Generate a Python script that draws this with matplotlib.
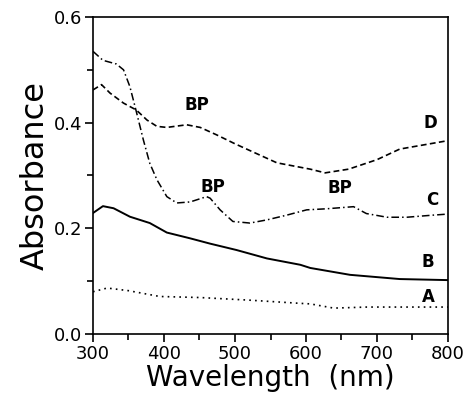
import numpy as np
import matplotlib
matplotlib.use("Agg")
import matplotlib.pyplot as plt
from matplotlib.ticker import MultipleLocator, FormatStrFormatter

# wavelength (nm) / absorbance
wl_A = [300, 320, 350, 394, 451, 521, 592, 606, 639, 686, 740, 800]
abs_A = [0.080, 0.087, 0.082, 0.071, 0.069, 0.064, 0.058, 0.057, 0.049, 0.051, 0.051, 0.051]

wl_B = [300, 314, 329, 352, 380, 404, 437, 465, 502, 545, 592, 606, 662, 732, 800]
abs_B = [0.229, 0.242, 0.238, 0.222, 0.210, 0.192, 0.181, 0.171, 0.159, 0.143, 0.131, 0.125, 0.112, 0.104, 0.102]

wl_C = [300, 314, 333, 343, 352, 361, 371, 380, 390, 404, 418, 437, 460, 465, 479, 497,
        521, 545, 573, 601, 629, 667, 685, 714, 742, 779, 800]
abs_C = [0.535, 0.518, 0.511, 0.500, 0.468, 0.421, 0.367, 0.323, 0.292, 0.260, 0.248, 0.250, 0.260, 0.257, 0.235, 0.213,
         0.210, 0.216, 0.225, 0.235, 0.237, 0.241, 0.228, 0.221, 0.221, 0.225, 0.227]

wl_D = [300, 312, 324, 343, 361, 376, 390, 404, 432, 451, 474, 500, 559, 606, 627, 660, 700, 732, 800]
abs_D = [0.462, 0.472, 0.456, 0.437, 0.424, 0.405, 0.393, 0.391, 0.396, 0.391, 0.377, 0.360, 0.324, 0.312, 0.305, 0.312, 0.330, 0.350, 0.366]

fig = plt.figure(figsize=(4.68, 3.97), dpi=100)
ax = fig.add_axes([93/468, 1-334/397, 355/468, 317/397])

ax.plot(wl_A, abs_A, color='black', lw=1.2, ls=(0, (1, 2.5)))
ax.plot(wl_B, abs_B, color='black', lw=1.4, ls='-')
ax.plot(wl_C, abs_C, color='black', lw=1.1, ls=(0, (5, 2, 1, 2)))
ax.plot(wl_D, abs_D, color='black', lw=1.2, ls=(0, (3.5, 2)))

lbl = dict(fontsize=12, fontweight='bold', ha='center', va='center')
ax.text(446, 0.434, 'BP', **lbl)
ax.text(469, 0.279, 'BP', **lbl)
ax.text(648, 0.276, 'BP', **lbl)
ax.text(775, 0.400, 'D', **lbl)
ax.text(778, 0.253, 'C', **lbl)
ax.text(772, 0.136, 'B', **lbl)
ax.text(772, 0.070, 'A', **lbl)

ax.set_xlim(300, 800)
ax.set_ylim(0, 0.6)
ax.xaxis.set_major_locator(MultipleLocator(100))
ax.xaxis.set_minor_locator(MultipleLocator(50))
ax.yaxis.set_major_locator(MultipleLocator(0.2))
ax.yaxis.set_minor_locator(MultipleLocator(0.1))
ax.yaxis.set_major_formatter(FormatStrFormatter('%.1f'))
ax.tick_params(which='major', direction='out', length=6, width=1.2, labelsize=13, pad=2)
ax.tick_params(which='minor', direction='out', length=4, width=1.2)
for s in ax.spines.values():
    s.set_linewidth(1.2)

ax.set_xlabel('Wavelength  (nm)', fontsize=20, labelpad=1)
ax.set_ylabel('Absorbance', fontsize=23, labelpad=2)

fig.savefig('out.png', dpi=100)
